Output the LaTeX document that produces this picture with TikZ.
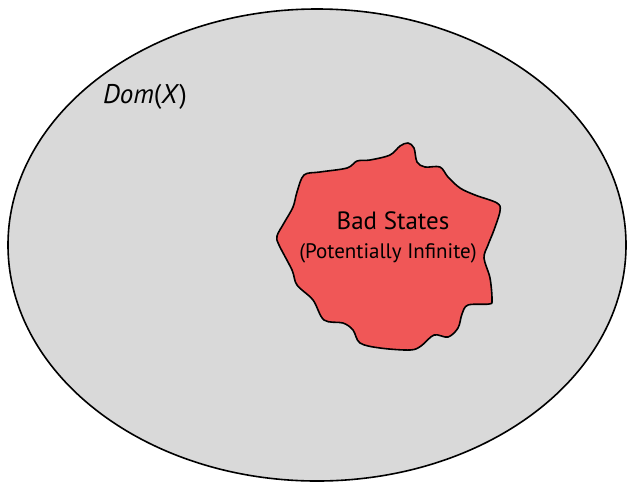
\documentclass[tikz,border=0pt]{standalone}
\usepackage{fontspec}
\setmainfont{PT Sans}
\usetikzlibrary{positioning}
\definecolor{domgray}{RGB}{217,217,217}
\definecolor{badred}{RGB}{240,87,87}

\begin{document}
\begin{tikzpicture}[x=1pt,y=-1pt,
    domset/.style={draw=black,line width=1.6pt,fill=domgray},
    badregion/.style={draw=black,line width=1.6pt,fill=badred,line join=round},
    bigtext/.style={font=\fontsize{25}{30}\selectfont,inner sep=0pt,anchor=base},
    smalltext/.style={font=\fontsize{21}{25}\selectfont,inner sep=0pt}]
  \useasboundingbox (0,0) rectangle (628,483);

  % the whole domain
  \draw[domset] (317,245) ellipse[x radius=309,y radius=236];

  % bad states blob
  \draw[badregion] plot[smooth cycle,tension=0.55] coordinates {
    (408,143) (414,148) (417,162) (425,167) (440,167) (448,177) (460,188)
    (475,195) (497,203) (500,211) (494,230) (488,245) (484,258) (490,278)
    (492,300) (489,304) (468,305) (462,314) (458,328) (448,337) (434,335)
    (421,346) (410,350) (380,348) (360,343) (353,330) (343,323) (324,320)
    (313,300) (297,285) (292,270) (279,245) (277,236) (284,223) (293,207)
    (297,192) (304,175) (320,172) (347,168) (357,161) (370,160) (390,155)
    (400,146)};

  \node[bigtext, font=\fontsize{27}{32}\selectfont] (dom) at (145,103) {\textit{Dom}(\textit{X})};
  \node[bigtext] (bad) at (393,229) {Bad States};
  \node[smalltext, below=29pt of bad.base, anchor=base, xshift=-5pt] (inf) {(Potentially Infinite)};
\end{tikzpicture}
\end{document}
